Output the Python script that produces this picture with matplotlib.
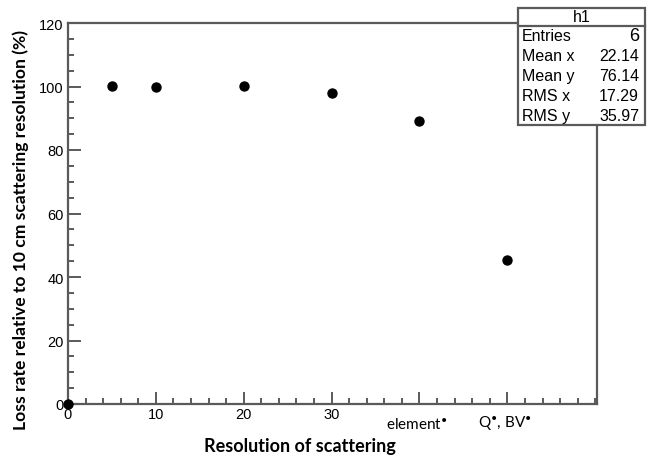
import matplotlib
matplotlib.use("Agg")
import matplotlib.pyplot as plt
from matplotlib.ticker import MultipleLocator, FixedLocator
from matplotlib.patches import Rectangle

# Loss rate for each scattering resolution
res_x = [0, 5, 10, 20, 30, 40, 50]
loss_y = [0, 100.3, 100.0, 100.3, 98.0, 89.2, 45.5]

x_tick_pos = [0, 10, 20, 30]
x_tick_text = ["0", "10", "20", "30"]
cat_pos = [40, 50]
cat_text = ["element$^{•}$", "Q$^{•}$, BV$^{•}$"]
y_ticks = [0, 20, 40, 60, 80, 100, 120]

stats_title = "h1"
stats_names = ["Entries", "Mean x", "Mean y", "RMS x", "RMS y"]
stats_values = ["6", "22.14", "76.14", "17.29", "35.97"]

plt.rcParams["mathtext.fontset"] = "custom"
plt.rcParams["mathtext.rm"] = "Lato"
plt.rcParams["mathtext.it"] = "Lato"

W, H = 647, 460
fig = plt.figure(figsize=(W / 100, H / 100), dpi=100)
ax = fig.add_axes([68 / W, 1 - 405 / H, (597 - 68) / W, (405 - 24) / H])

ax.scatter(res_x, loss_y, s=42, color="black", zorder=3, clip_on=False)

ax.set_xlim(0, 60.2)
ax.set_ylim(0, 120)

frame_col = "#5a5a5a"
for sp in ax.spines.values():
    sp.set_color(frame_col)
    sp.set_linewidth(1.6)

ax.xaxis.set_major_locator(FixedLocator(x_tick_pos + cat_pos))
ax.set_xticklabels(x_tick_text + ["", ""])
ax.xaxis.set_minor_locator(MultipleLocator(2))
ax.yaxis.set_major_locator(FixedLocator(y_ticks))
ax.yaxis.set_minor_locator(MultipleLocator(5))

tick_font = "Liberation Sans"
ax.tick_params(which="both", direction="in", color=frame_col, width=1.4,
               top=False, right=False)
ax.tick_params(which="major", length=9)
ax.tick_params(which="minor", length=4.5)
ax.tick_params(axis="x", which="major", pad=2, labelsize=10.5)
ax.tick_params(axis="y", which="major", pad=3, labelsize=10.5)
for lab in ax.get_xticklabels() + ax.get_yticklabels():
    lab.set_fontfamily(tick_font)

for xp, txt in zip(cat_pos, cat_text):
    ax.annotate(txt, xy=(xp, 0), xytext=(-2, -14), textcoords="offset points",
                ha="center", va="center", fontsize=11, fontfamily="Lato",
                annotation_clip=False)

ax.set_xlabel("Resolution of scattering", fontsize=13, fontweight="bold",
              fontfamily="Lato")
ax.xaxis.set_label_coords((300 - 68) / 529, -(447 - 405) / 381)
ax.xaxis.label.set_va("center")
ax.set_ylabel("Loss rate relative to 10 cm scattering resolution (%)",
              fontsize=12.6, fontweight="bold", fontfamily="Lato")
ax.yaxis.set_label_coords(-(68 - 21) / 529, (405 - 230) / 381)
ax.yaxis.label.set_va("center")

# Statistics box in the upper right corner
bx0, by0, bx1, by1 = 518, 9, 645, 126
hdr = 27
box = Rectangle((bx0 / W, 1 - by1 / H), (bx1 - bx0) / W, (by1 - by0) / H,
                transform=fig.transFigure, facecolor="white",
                edgecolor=frame_col, linewidth=1.6, zorder=5)
fig.add_artist(box)
fig.add_artist(plt.Line2D([bx0 / W, bx1 / W], [1 - hdr / H, 1 - hdr / H],
                          transform=fig.transFigure, color=frame_col,
                          linewidth=1.6, zorder=6))
fig.text((bx0 + bx1) / 2 / W, 1 - (by0 + hdr) / 2 / H, stats_title,
         ha="center", va="center", fontsize=11.5, fontfamily=tick_font,
         zorder=7)
row_h = (by1 - hdr) / len(stats_names)
for i, (name, val) in enumerate(zip(stats_names, stats_values)):
    yc = 1 - (hdr + row_h * (i + 0.5)) / H
    fig.text((bx0 + 4) / W, yc, name, ha="left", va="center",
             fontsize=11.5, fontfamily=tick_font, zorder=7)
    fig.text((bx1 - 6) / W, yc, val, ha="right", va="center",
             fontsize=13 if i == 0 else 11.5, fontfamily=tick_font, zorder=7)

fig.savefig("out.png", dpi=100)
